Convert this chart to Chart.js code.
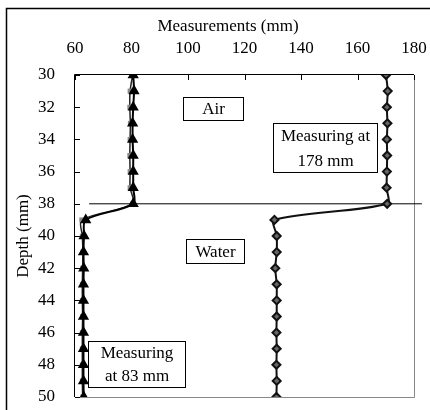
<!DOCTYPE html>
<html>
<head>
<meta charset="utf-8">
<script src="https://cdn.jsdelivr.net/npm/chart.js@4.4.0/dist/chart.umd.min.js"></script>
<style>
  html, body { margin: 0; padding: 0; background: #fff; }
</style>
</head>
<body>
<canvas id="chart" width="430" height="410"></canvas>
<script>
'use strict';

// depth of each reading (mm)
var depths = [30, 31, 32, 33, 34, 35, 36, 37, 38, 39, 40, 41, 42, 43, 44, 45, 46, 47, 48, 49, 50];
// probe at 83 mm (triangles) and its second run (grey squares)
var probe83 = [80.6, 80.9, 80.6, 80.4, 80.4, 80.6, 80.6, 80.6, 80.6, 63.8, 63.2, 63.0, 63.1, 63.0, 63.0, 63.0, 63.0, 63.0, 63.0, 63.0, 63.1];
var probe83b = [80.4, 79.5, 79.4, 79.6, 79.5, 79.4, 79.5, 79.5, 80.4, 62.4, 62.6, 62.8, 62.7, 62.6, 62.6, 62.7, 62.6, 62.6, 62.6, 62.6, 62.7];
// probe at 178 mm (diamonds)
var probe178 = [170.1, 170.7, 170.4, 170.6, 170.4, 170.5, 170.4, 170.3, 170.5, 130.6, 131.4, 131.4, 130.9, 131.4, 131.4, 131.4, 131.3, 131.4, 131.3, 131.4, 131.3];
// water surface line
var surfaceDepth = 38;
var surfaceFrom = 65;
var surfaceTo = 182.8;

var xTicks = [60, 80, 100, 120, 140, 160, 180];
var yTicks = [30, 32, 34, 36, 38, 40, 42, 44, 46, 48, 50];

var serif = 'Liberation Serif, Times New Roman, serif';

function pairs(vals) {
  return depths.map(function(d, i) { return {x: vals[i], y: d}; });
}

// text boxes, corners in data units
var notes = [
  {lines: ['Air'], x1: 98.2, x2: 119.5, y1: 31.37, y2: 32.8},
  {lines: ['Water'], x1: 99.3, x2: 119.8, y1: 40.19, y2: 41.68},
  {lines: ['Measuring at', '178 mm'], x1: 130.1, x2: 166.9, y1: 32.98, y2: 36.02},
  {lines: ['Measuring', 'at 83 mm'], x1: 64.6, x2: 98.9, y1: 46.52, y2: 49.38}
];

var framePlugin = {
  id: 'frame',
  beforeDraw: function(chart) {
    var ctx = chart.ctx;
    ctx.save();
    ctx.fillStyle = '#fff';
    ctx.fillRect(0, 0, chart.width, chart.height);
    ctx.restore();
  },
  beforeDatasetsDraw: function(chart) {
    var ctx = chart.ctx, a = chart.chartArea;
    var xs = chart.scales.x, ys = chart.scales.y;
    ctx.save();
    ctx.lineWidth = 1;
    ctx.strokeStyle = '#888';
    ctx.beginPath();
    ctx.moveTo(a.right + 0.5, a.top);
    ctx.lineTo(a.right + 0.5, a.bottom + 0.5);
    ctx.lineTo(a.left, a.bottom + 0.5);
    ctx.stroke();
    ctx.strokeStyle = '#000';
    ctx.beginPath();
    ctx.moveTo(a.left - 0.5, a.bottom);
    ctx.lineTo(a.left - 0.5, a.top - 0.5);
    ctx.lineTo(a.right, a.top - 0.5);
    xTicks.forEach(function(v) {
      var px = Math.round(xs.getPixelForValue(v)) + 0.5;
      ctx.moveTo(px, a.top);
      ctx.lineTo(px, a.top + 5);
    });
    yTicks.forEach(function(v) {
      var py = Math.round(ys.getPixelForValue(v)) + 0.5;
      ctx.moveTo(a.left, py);
      ctx.lineTo(a.left + 5, py);
    });
    ctx.stroke();
    ctx.restore();
  },
  afterDatasetsDraw: function(chart) {
    var ctx = chart.ctx;
    var xs = chart.scales.x, ys = chart.scales.y;
    ctx.save();
    ctx.font = '17px ' + serif;
    ctx.textAlign = 'center';
    ctx.textBaseline = 'middle';
    notes.forEach(function(n) {
      var l = Math.round(xs.getPixelForValue(n.x1)) + 0.5;
      var r = Math.round(xs.getPixelForValue(n.x2)) + 0.5;
      var t = Math.round(ys.getPixelForValue(n.y1)) + 0.5;
      var b = Math.round(ys.getPixelForValue(n.y2)) + 0.5;
      ctx.fillStyle = '#fff';
      ctx.fillRect(l, t, r - l, b - t);
      ctx.strokeStyle = '#000';
      ctx.lineWidth = 1;
      ctx.strokeRect(l, t, r - l, b - t);
      ctx.fillStyle = '#000';
      var lh = (b - t) / n.lines.length;
      n.lines.forEach(function(s, i) {
        ctx.fillText(s, (l + r) / 2, t + lh * (i + 0.5) + 1);
      });
    });
    ctx.restore();
  },
  afterDraw: function(chart) {
    var ctx = chart.ctx;
    ctx.save();
    ctx.strokeStyle = '#000';
    ctx.lineWidth = 1.5;
    ctx.strokeRect(6.5, 8.5, chart.width + 10, chart.height + 10);
    ctx.restore();
  }
};

new Chart(document.getElementById('chart'), {
  type: 'line',
  data: {
    datasets: [
      {
        label: 'Measuring at 83 mm',
        data: pairs(probe83),
        borderColor: '#000',
        backgroundColor: '#000',
        borderWidth: 2,
        pointStyle: 'triangle',
        pointRadius: 4.5,
        tension: 0.3
      },
      {
        label: 'Measuring at 83 mm (2)',
        data: pairs(probe83b),
        borderColor: '#222',
        backgroundColor: '#8a8a8a',
        borderWidth: 1.5,
        pointStyle: 'rect',
        pointRadius: 3.5,
        pointBorderWidth: 0,
        tension: 0.3
      },
      {
        label: 'Measuring at 178 mm',
        data: pairs(probe178),
        borderColor: '#111',
        backgroundColor: '#666',
        borderWidth: 2,
        pointStyle: 'rectRot',
        pointRadius: 4,
        pointBorderWidth: 2,
        pointBorderColor: '#111',
        tension: 0.3
      },
      {
        label: 'Surface',
        data: [{x: surfaceFrom, y: surfaceDepth}, {x: surfaceTo, y: surfaceDepth}],
        borderColor: '#000',
        borderWidth: 1,
        pointRadius: 0,
        clip: false
      }
    ]
  },
  options: {
    responsive: false,
    animation: false,
    indexAxis: 'y',
    layout: {padding: {left: 26, right: 0, top: 0, bottom: 13}},
    plugins: {
      legend: {display: false},
      tooltip: {enabled: false},
      title: {
        display: true,
        text: 'Measurements (mm)',
        color: '#000',
        font: {family: serif, size: 17, weight: 'normal'},
        padding: {top: 16, bottom: 0}
      }
    },
    scales: {
      x: {
        type: 'linear',
        position: 'top',
        min: 60,
        max: 180,
        afterBuildTicks: function(s) { s.ticks = xTicks.map(function(v) { return {value: v}; }); },
        afterFit: function(s) { s.height = 38.6; s.paddingLeft = 0; s.paddingRight = 16; },
        ticks: {color: '#000', padding: 16, font: {family: serif, size: 17}},
        grid: {display: false, drawTicks: false},
        border: {display: false}
      },
      y: {
        type: 'linear',
        position: 'left',
        reverse: true,
        min: 30,
        max: 50,
        afterBuildTicks: function(s) { s.ticks = yTicks.map(function(v) { return {value: v}; }); },
        afterFit: function(s) { s.width = 49; s.paddingTop = 0; s.paddingBottom = 0; },
        ticks: {color: '#000', padding: 20, font: {family: serif, size: 17}},
        grid: {display: false, drawTicks: false},
        border: {display: false},
        title: {
          display: true,
          text: 'Depth (mm)',
          color: '#000',
          font: {family: serif, size: 17},
          padding: {top: -12.7, bottom: 0}
        }
      }
    }
  },
  plugins: [framePlugin]
});
</script>
</body>
</html>
